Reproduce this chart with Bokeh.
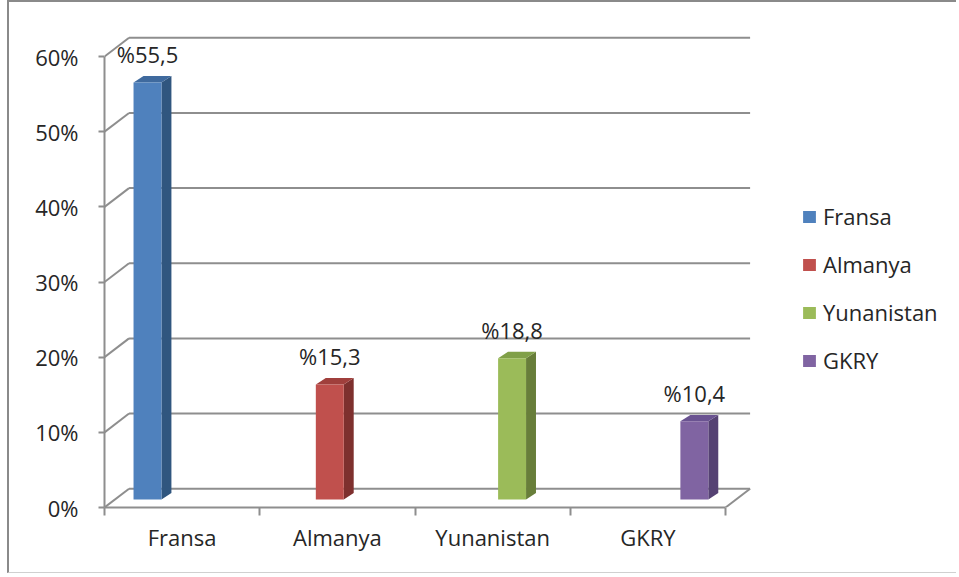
from bokeh.plotting import figure
from bokeh.models import FixedTicker, Legend, LegendItem, ColumnDataSource
from bokeh.core.properties import value
from bokeh.embed import file_html
from bokeh.resources import INLINE

# ---- data ----
categories = ["Fransa", "Almanya", "Yunanistan", "GKRY"]
shares = [55.5, 15.3, 18.8, 10.4]
y_ticks = [0, 10, 20, 30, 40, 50, 60]
y_tick_labels = ["0%", "10%", "20%", "30%", "40%", "50%", "60%"]

# ---- style ----
front_colors = ["#4F81BD", "#C0504D", "#9BBB59", "#8064A2"]
side_colors = ["#30567F", "#7E302E", "#687E3A", "#554273"]
top_colors = ["#3F6A9E", "#A03F3C", "#80A048", "#6A5391"]
FONT = "Open Sans"
FS = "22px"
TXT = "#262626"
GRID = "#8E8E8E"

n = len(categories)
wall_dx, wall_dy = 0.158, 2.5      # depth of back wall (data units)
bar_dx, bar_dy = 0.064, 0.86       # depth of each column
bar_base = 1.06                    # columns stand mid-depth on the floor
bar_w = 0.18
persp_start, persp_step = 0.277, 1.174
bar_x = [persp_start + i * persp_step for i in range(n)]

p = figure(width=949, height=573, x_range=(0, 5.468), y_range=(0, 64),
           output_backend="svg", toolbar_location=None,
           min_border_left=95, min_border_right=5, min_border_top=24,
           min_border_bottom=68)
p.styles = {"margin-left": "7px",
            "border-left": "2px solid #8a8a8a",
            "border-top": "2px solid #8a8a8a",
            "border-bottom": "1px solid #d0d0d0"}
p.outline_line_color = None
p.grid.visible = False
p.background_fill_color = "white"

# ---- back wall gridlines and left-wall diagonals ----
gy = [t + wall_dy for t in y_ticks]
p.segment(x0=[wall_dx] * len(y_ticks), y0=gy, x1=[n + wall_dx] * len(y_ticks), y1=gy,
          line_color=GRID, line_width=2)
p.segment(x0=[0] * len(y_ticks), y0=y_ticks, x1=[wall_dx] * len(y_ticks), y1=gy,
          line_color=GRID, line_width=2)
# floor right edge
p.segment(x0=[n], y0=[0], x1=[n + wall_dx], y1=[wall_dy], line_color=GRID, line_width=2)

# ---- 3D columns ----
x0 = [b - bar_w / 2 for b in bar_x]
x1 = [b + bar_w / 2 for b in bar_x]
tops = [bar_base + v for v in shares]
side_xs = [[a, a + bar_dx, a + bar_dx, a] for a in x1]
side_ys = [[bar_base, bar_base + bar_dy, t + bar_dy, t] for t in tops]
top_xs = [[a, c, c + bar_dx, a + bar_dx] for a, c in zip(x0, x1)]
top_ys = [[t, t, t + bar_dy, t + bar_dy] for t in tops]
p.patches(xs=side_xs, ys=side_ys, fill_color=side_colors, line_color=None)
p.patches(xs=top_xs, ys=top_ys, fill_color=top_colors, line_color=None)
src = ColumnDataSource(dict(left=x0, right=x1, bottom=[bar_base] * n, top=tops,
                            color=front_colors))
front = p.quad(left="left", right="right", bottom="bottom", top="top",
               fill_color="color", line_color=None, source=src)

# ---- value labels ----
labels = ["%" + ("%.1f" % v).replace(".", ",") for v in shares]
p.text(x=bar_x, y=[t + 3.75 for t in tops], text=labels,
       text_font=value(FONT), text_font_size=FS, text_color=TXT,
       text_align="center", text_baseline="alphabetic")

# ---- axes ----
xa = p.xaxis[0]
xa.ticker = FixedTicker(ticks=[i + 0.5 for i in range(n)], minor_ticks=list(range(n + 1)))
xa.major_label_overrides = {i + 0.5: c for i, c in enumerate(categories)}
xa.bounds = (0, n)
xa.major_tick_out = 0
xa.major_tick_in = 0
xa.minor_tick_out = 8
xa.minor_tick_in = 0
xa.minor_tick_line_color = GRID
xa.minor_tick_line_width = 2
xa.axis_line_color = GRID
xa.axis_line_width = 2
xa.major_label_standoff = 6
xa.major_label_text_font = FONT
xa.major_label_text_font_size = FS
xa.major_label_text_color = TXT

ya = p.yaxis[0]
ya.ticker = FixedTicker(ticks=y_ticks, minor_ticks=[])
ya.major_label_overrides = {t: l for t, l in zip(y_ticks, y_tick_labels)}
ya.bounds = (0, 60)
ya.major_tick_out = 6
ya.major_tick_in = 0
ya.major_tick_line_color = GRID
ya.major_tick_line_width = 2
ya.axis_line_color = GRID
ya.axis_line_width = 2
ya.major_label_standoff = 20
ya.major_label_text_font = FONT
ya.major_label_text_font_size = FS
ya.major_label_text_color = TXT

# ---- legend ----
legend = Legend(items=[LegendItem(label=c, renderers=[front], index=i)
                       for i, c in enumerate(categories)],
                location=(697, 132), padding=0, margin=0, spacing=18,
                glyph_width=16, glyph_height=15, label_height=20, label_standoff=6,
                label_text_font=FONT, label_text_font_size=FS, label_text_color=TXT,
                border_line_color=None, background_fill_alpha=0)
p.add_layout(legend, "center")

open("out.html", "w").write(file_html(p, INLINE))
